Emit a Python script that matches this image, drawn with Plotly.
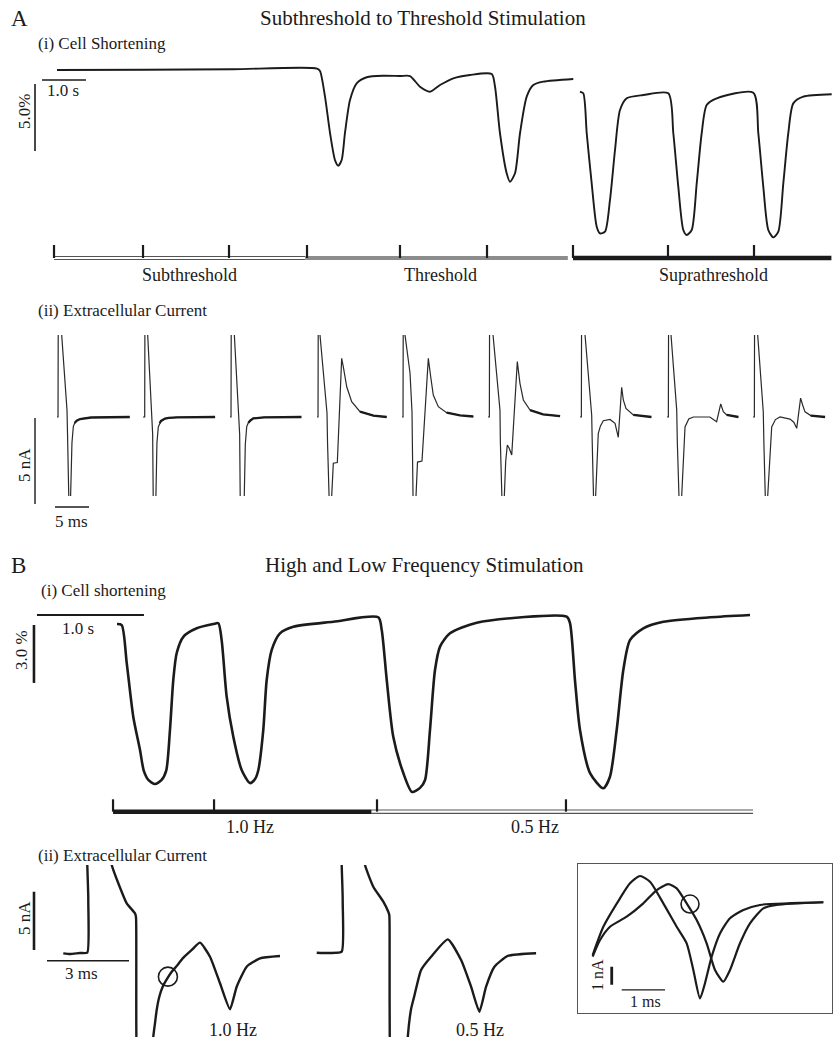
import plotly.graph_objects as go

W, H = 833, 1043
FONT = "Liberation Serif, Times New Roman, serif"
INK = "#1b1b1b"

# ---------------- DATA ----------------
# A(i) cell shortening: time (s) vs shortening (%)
a1_seg1_t = [0, 2.0, 4.0, 5.909, 5.977, 6.091, 6.205, 6.318, 6.393, 6.470, 6.545, 6.659, 6.811, 7.039,
             7.416, 7.795, 8.023, 8.250, 8.477, 8.705, 9.007, 9.386, 9.880, 9.955, 10.068, 10.220,
             10.295, 10.409, 10.523, 10.675, 10.825, 11.052, 11.734]
a1_seg1_y = [0, 0.02, 0.06, 0.11, -0.07, -1.99, -4.70, -6.72, -7.14, -6.72, -4.70, -2.24, -0.99, -0.54,
             -0.43, -0.45, -0.45, -1.25, -1.62, -1.12, -0.62, -0.37, -0.30, -1.25, -4.72, -7.71,
             -8.34, -7.71, -4.72, -1.99, -1.12, -0.87, -0.67]
a1_seg2_t = [11.886, 11.961, 12.039, 12.152, 12.266, 12.341, 12.455, 12.568, 12.682, 12.795, 12.948,
             13.325, 13.893, 14.007, 14.120, 14.234, 14.311, 14.425, 14.539, 14.652, 14.766, 14.993,
             15.825, 15.939, 16.052, 16.166, 16.280, 16.393, 16.507, 16.620, 16.734, 16.961, 17.607]
a1_seg2_y = [-1.62, -1.74, -4.72, -8.46, -11.69, -12.19, -12.07, -9.70, -5.97, -2.99, -2.11,
             -1.87, -1.74, -4.72, -8.71, -11.94, -12.31, -11.94, -8.46, -4.72, -2.61, -2.11,
             -1.69, -4.72, -8.71, -11.94, -12.49, -12.07, -8.46, -4.72, -2.49, -1.99, -1.81]
a_stim_times = [-0.068, 1.955, 3.909, 5.682, 7.795, 9.773, 11.727, 13.886, 15.841]
a_protocol_labels = ["Subthreshold", "Threshold", "Suprathreshold"]
a_protocol_start = [-0.068, 5.64, 11.727]
a_protocol_end = [5.64, 11.61, 17.6]
a_protocol_label_t = [3.0, 8.727, 14.91]

# A(ii) extracellular current sweeps: time (ms) vs current (nA); +-9 = off scale
a2_t1 = [0, 0.15, 0.2, 0.6, 0.69, 1.05, 1.47, 1.55, 1.6, 1.65, 1.95, 2.0, 2.2, 2.4, 2.6, 2.9, 3.4, 3.9, 5.0, 10.7]
a2_i1 = [0, 0, 9, 9, 4.77, 2.6, 0.41, -1.0, -4.6, -9, -9, -4.6, -1.5, -0.56, -0.35, -0.21, -0.12, -0.08, -0.03, 0]
a2_t2 = [0, 0.25, 0.3, 0.6, 0.69, 1.0, 1.32, 1.42, 1.5, 1.55, 1.85, 1.9, 2.05, 2.25, 2.45, 2.65, 3.24, 3.8, 5.0, 10.6]
a2_i2 = [0, 0, 9, 9, 4.77, 2.3, 0.35, -1.0, -4.6, -9, -9, -4.6, -1.5, -0.58, -0.35, -0.23, -0.09, -0.05, -0.02, 0]
a2_t3 = [0, 0.15, 0.2, 0.55, 0.64, 1.0, 1.32, 1.42, 1.5, 1.56, 2.0, 2.1, 2.25, 2.46, 2.7, 3.0, 3.43, 4.0, 5.0, 10.5]
a2_i3 = [0, 0, 9, 9, 4.77, 2.2, 0.31, -1.0, -4.6, -9, -9, -4.6, -1.6, -0.56, -0.33, -0.2, -0.08, -0.05, -0.02, 0]
a2_t4 = [0, 0.15, 0.2, 0.35, 0.44, 1.0, 1.47, 1.55, 1.62, 1.67, 2.1, 2.16, 2.4, 2.99, 3.63, 3.87, 4.37, 5.1, 6.32, 8.3, 10.25]
a2_i4 = [0, 0, 9, 9, 4.77, 2.2, 0.23, -1.5, -4.6, -9, -9, -4.6, -2.69, -2.65, 3.41, 2.92, 1.76, 0.89, 0.31, 0.08, 0]
a2_t5 = [0, 0.15, 0.2, 0.35, 0.44, 1.18, 1.47, 1.55, 1.62, 1.67, 2.0, 2.06, 2.28, 2.94, 3.87, 4.22, 4.6, 5.34, 6.57, 8.53, 10.49]
a2_i5 = [0, 0, 9, 9, 4.77, 2.56, 0.3, -1.5, -4.6, -9, -9, -4.6, -2.62, -2.56, 3.41, 2.34, 1.28, 0.6, 0.25, 0.1, 0.03]
a2_t6 = [0, 0.2, 0.25, 0.65, 0.74, 1.3, 1.76, 1.82, 1.87, 1.92, 2.35, 2.4, 2.6, 2.84, 3.1, 3.49, 4.31, 4.7, 5.2, 6.18, 8.1, 10.6]
a2_i6 = [0, 0, 9, 9, 4.77, 2.2, 0.4, -1.5, -4.6, -9, -9, -4.6, -2.6, -1.63, -1.8, -2.21, 3.22, 1.96, 0.99, 0.4, 0.15, 0.05]
a2_t7 = [0, 0.2, 0.25, 0.65, 0.74, 1.3, 1.72, 1.8, 1.9, 1.96, 2.25, 2.3, 2.69, 3.01, 3.43, 4.41, 5.15, 5.63, 6.13, 6.37, 6.76, 7.84, 10.5]
a2_i7 = [0, 0, 9, 9, 4.77, 2.2, 0.1, -1.5, -4.6, -9, -9, -4.6, -0.95, -0.52, -0.22, -0.14, -0.37, -1.18, 1.73, 0.99, 0.5, 0.12, 0]
a2_t8 = [0, 0.2, 0.25, 0.5, 0.59, 1.0, 1.43, 1.52, 1.66, 1.7, 2.1, 2.16, 2.65, 3.2, 3.87, 6.3, 7.3, 7.9, 8.28, 8.78, 10.5]
a2_i8 = [0, 0, 9, 9, 4.77, 2.4, 0.4, -1.5, -4.6, -9, -9, -4.6, -0.58, -0.12, 0, 0, -0.27, 0.76, 0.31, 0.12, 0]
a2_t9 = [0, 0.2, 0.25, 0.6, 0.69, 1.1, 1.51, 1.6, 1.76, 1.8, 2.1, 2.16, 2.75, 3.3, 3.97, 5.44, 6.0, 6.43, 7.0, 7.3, 7.65, 8.5, 10.6]
a2_i9 = [0, 0, 9, 9, 4.77, 2.4, 0.3, -1.5, -4.6, -9, -9, -4.6, -0.58, -0.15, 0, -0.12, -0.3, -0.66, 1.1, 0.7, 0.3, 0.08, 0]
a2_tail_from = [2.6, 2.45, 2.7, 6.0, 6.5, 6.1, 7.0, 8.5, 7.9]

# B(i) cell shortening: time (s) vs shortening (%)
b1_t = [0, 0.044, 0.091, 0.152, 0.215, 0.250, 0.295, 0.355, 0.415, 0.460, 0.495, 0.526, 0.558, 0.620, 0.745,
        0.900, 0.947, 0.978, 1.025, 1.087, 1.165, 1.243, 1.290, 1.321, 1.367, 1.399, 1.446, 1.523,
        1.648, 2.021, 2.442, 2.474, 2.521, 2.582, 2.676, 2.757, 2.832, 2.879, 2.925, 2.972, 3.019,
        3.112, 3.362, 4.203, 4.234, 4.280, 4.327, 4.421, 4.545, 4.607, 4.670, 4.732, 4.794, 4.919,
        5.106, 5.542, 5.916]
b1_y = [-0.21, -0.26, -2.23, -5.01, -6.74, -7.80, -8.30, -8.50, -8.30, -7.80, -5.70, -3.11, -1.71, -0.87, -0.43,
        -0.21, -0.17, -1.04, -3.97, -6.05, -7.77, -8.45, -8.24, -7.77, -5.70, -3.11, -1.55, -0.69,
        -0.35, -0.09, 0.14, -0.52, -3.11, -6.05, -7.93, -8.91, -8.70, -8.29, -5.70, -2.59, -1.38,
        -0.69, -0.14, 0.17, -0.17, -3.11, -5.70, -7.93, -8.72, -8.12, -5.70, -2.59, -1.04, -0.43,
        -0.09, 0.14, 0.26]
b_stim_times = [-0.037, 0.907, 2.430, 4.196]
b_protocol_labels = ["1.0 Hz", "0.5 Hz"]
b_protocol_start = [-0.037, 2.38]
b_protocol_end = [2.38, 5.944]
b_protocol_label_t = [1.243, 3.907]

# B(ii) extracellular current: time (ms) vs current (nA); +-12 = off scale
b2_t1 = [-0.905, -0.659, -0.293, -0.026, 0.011, 0.02, 0.5, 0.868, 1.11, 1.418, 1.722, 1.758, 1.769, 1.777,
         1.9, 2.3, 2.392, 2.454, 2.516, 2.612, 2.736, 2.883, 3.066, 3.249, 3.469, 3.799, 4.103, 4.469,
         4.835, 5.201, 5.447, 5.813, 6.3, 7.033]
b2_i1 = [-0.03, -0.09, 0, 0.03, 4.57, 12, 12, 7.59, 6.01, 4.28, 3.42, 3.10, -0.60, -7.9,
         -12, -12, -7.22, -6.06, -4.91, -3.77, -2.91, -2.28, -1.62, -1.12, -0.46, 0.26, 0.89, -0.32,
         -2.61, -4.85, -2.91, -1.18, -0.46, -0.26]
b2_t2 = [-0.952, -0.465, -0.037, 0, 0.01, 0.5, 0.817, 1.121, 1.487, 1.67, 1.707, 1.718, 1.725, 1.8, 2.3,
         2.385, 2.505, 2.626, 2.871, 3.238, 3.85, 4.337, 4.703, 5.007, 5.252, 5.557, 6.048, 7.084]
b2_i2 = [-0.06, -0.09, 0.03, 4.48, 12, 12, 7.5, 5.63, 4.34, 3.47, 3.19, -0.69, -8.0, -12, -12,
         -7.30, -4.91, -3.77, -1.55, -0.41, 1.09, -0.69, -2.99, -5.15, -2.99, -1.27, -0.34, -0.11]
b2_labels = ["1.0 Hz", "0.5 Hz"]
b2_circle_t = [2.927]
b2_circle_i = [-2.04]

# Inset: overlay of the two responses (ms, nA)
ins_t1 = [0.062, 0.31, 0.698, 0.93, 1.163, 1.395, 1.705, 2.016, 2.248, 2.403, 2.558, 2.674, 2.829, 3.023,
          3.256, 3.566, 3.953, 5.426]
ins_i1 = [0, 1.57, 3.15, 3.98, 4.39, 4.07, 2.87, 1.57, 0.65, -0.83, -2.41, -1.57, -0.09, 1.2,
          2.04, 2.5, 2.78, 2.93]
ins_t2 = [0.062, 0.233, 0.465, 0.853, 1.24, 1.551, 1.821, 2.016, 2.248, 2.481, 2.713, 2.907, 3.1, 3.256,
          3.488, 3.721, 4.031, 4.341, 5.426]
ins_i2 = [-0.09, 0.83, 1.57, 2.13, 2.87, 3.61, 3.94, 3.7, 2.87, 1.94, 0.65, -0.83, -1.48, -0.83,
          0.65, 1.76, 2.59, 2.78, 2.93]
ins_circle_t = [2.326]
ins_circle_i = [2.83]

# ---------------- FIGURE ----------------
fig = go.Figure()
axes_layout = {}
n_axes = [0]


def make_axes(box, origin, scale, frame=False):
    """box=(left, top, right, bottom) px; origin=(px of x=0, py of y=0); scale=(px/unit x, px/unit y)"""
    n_axes[0] += 1
    n = n_axes[0]
    sfx = "" if n == 1 else str(n)
    left, top, right, bottom = box
    ox, oy = origin
    sx, sy = scale
    base = dict(showgrid=False, zeroline=False, showticklabels=False, ticks="", fixedrange=True)
    if frame:
        base.update(visible=True, showline=True, mirror=True, linecolor="#555", linewidth=1.3)
    else:
        base.update(visible=False)
    axes_layout["xaxis" + sfx] = dict(domain=[left / W, right / W],
                                      range=[(left - ox) / sx, (right - ox) / sx],
                                      anchor="y" + sfx, **base)
    axes_layout["yaxis" + sfx] = dict(domain=[1 - bottom / H, 1 - top / H],
                                      range=[(oy - bottom) / sy, (oy - top) / sy],
                                      anchor="x" + sfx, **base)
    return "x" + sfx, "y" + sfx


def line(ax, x, y, width=1.5, color=INK, smooth=None):
    ln = dict(color=color, width=width)
    if smooth:
        ln.update(shape="spline", smoothing=smooth)
    fig.add_trace(go.Scatter(x=x, y=y, xaxis=ax[0], yaxis=ax[1], mode="lines", line=ln,
                             hoverinfo="skip", showlegend=False))


annotations = []


def text(s, x, y, ax=None, size=17, xanchor="center", angle=0):
    if ax is None:
        xr, yr, xx, yy = "paper", "paper", x / W, 1 - y / H
    else:
        xr, yr, xx, yy = ax[0], ax[1], x, y
    annotations.append(dict(text=s, x=xx, y=yy, xref=xr, yref=yr, showarrow=False,
                            xanchor=xanchor, yanchor="middle", textangle=angle,
                            font=dict(family=FONT, size=size, color=INK)))


def stim_ticks(ax, times, y0, y1, width=2.2):
    xs, ys = [], []
    for t in times:
        xs += [t, t, None]
        ys += [y0, y1, None]
    line(ax, xs, ys, width=width)


# ---- Panel A(i)
axA1 = make_axes((0, 40, 833, 300), (57, 70), (44, 13.4))
line(axA1, a1_seg1_t, a1_seg1_y, width=1.9, smooth=0.7)
line(axA1, a1_seg2_t, a1_seg2_y, width=1.9, smooth=0.7)
bar_y, tick_y = -14.03, -13.06
line(axA1, [a_protocol_start[0], a_protocol_end[0]], [bar_y, bar_y], width=4, color="#555")
line(axA1, [a_protocol_start[0], a_protocol_end[0]], [bar_y, bar_y], width=1.8, color="white")
line(axA1, [a_protocol_start[1], a_protocol_end[1]], [bar_y, bar_y], width=4, color="#8c8c8c")
line(axA1, [a_protocol_start[2], a_protocol_end[2]], [bar_y, bar_y], width=4.5, color=INK)
stim_ticks(axA1, a_stim_times, bar_y, tick_y)
for lab, t in zip(a_protocol_labels, a_protocol_label_t):
    text(lab, t, -15.3, ax=axA1, size=18)
line(axA1, [-0.341, 0.659], [-0.75, -0.75], width=1.6)
line(axA1, [-0.5, -0.5], [-1.04, -6.04], width=1.6)
text("1.0 s", 0.136, -1.55, ax=axA1, size=17)
text("5.0%", -0.727, -3.13, ax=axA1, size=17, angle=-90)

# ---- Panel A(ii)
a2_t = [a2_t1, a2_t2, a2_t3, a2_t4, a2_t5, a2_t6, a2_t7, a2_t8, a2_t9]
a2_i = [a2_i1, a2_i2, a2_i3, a2_i4, a2_i5, a2_i6, a2_i7, a2_i8, a2_i9]
sweep_left_px = [57, 143, 230, 317, 402, 488, 580, 667, 753]
for k, (tt, ii) in enumerate(zip(a2_t, a2_i)):
    s = sweep_left_px[k]
    ax = make_axes((s - 3, 335, s + 80, 496), (s, 417), (6.8, 17.2))
    line(ax, tt, ii, width=1.2, color="#2a2a2a")
    tail = [(t, v) for t, v in zip(tt, ii) if t >= a2_tail_from[k]]
    line(ax, [p[0] for p in tail], [p[1] for p in tail], width=2.3, color=INK)
axA2s = make_axes((0, 330, 160, 540), (57, 417), (6.8, 17.2))
line(axA2s, [-3.235, -3.235], [-0.06, -5.06], width=1.4)
line(axA2s, [-0.29, 4.71], [-5.23, -5.23], width=1.6)
text("5 ms", 2.2, -6.05, ax=axA2s, size=17)
text("5 nA", -4.7, -2.79, ax=axA2s, size=17, angle=-90)

# ---- Panel B(i)
axB1 = make_axes((0, 600, 833, 845), (117, 620), (107, 19.3))
line(axB1, b1_t, b1_y, width=2.6, smooth=0.7)
bby, bty = -9.93, -9.29
line(axB1, [b_protocol_start[0], b_protocol_end[0]], [bby, bby], width=4.5, color=INK)
line(axB1, [b_protocol_start[1], b_protocol_end[1]], [bby, bby], width=4.5, color="#555")
line(axB1, [b_protocol_start[1], b_protocol_end[1]], [bby, bby], width=2.2, color="white")
stim_ticks(axB1, b_stim_times, bby, bty)
for lab, t in zip(b_protocol_labels, b_protocol_label_t):
    text(lab, t, -10.75, ax=axB1, size=18)
line(axB1, [-0.748, 0.252], [0.26, 0.26], width=1.8)
line(axB1, [-0.776, -0.776], [-0.26, -3.26], width=2.6)
text("1.0 s", -0.364, -0.45, ax=axB1, size=17)
text("3.0 %", -0.888, -1.55, ax=axB1, size=17, angle=-90)

# ---- Panel B(ii)
axB2a = make_axes((30, 865, 300, 1037), (88, 953), (27.3, 11.6))
line(axB2a, b2_t1, b2_i1, width=2.4, smooth=0.5)
fig.add_trace(go.Scatter(x=b2_circle_t, y=b2_circle_i, xaxis=axB2a[0], yaxis=axB2a[1], mode="markers",
                         marker=dict(symbol="circle-open", size=19, color=INK, line=dict(width=1.6)),
                         hoverinfo="skip", showlegend=False))
line(axB2a, [-1.978, -1.978], [0.26, 5.28], width=2.6)
line(axB2a, [-1.502, 1.502], [-0.66, -0.66], width=1.5)
text("3 ms", -0.22, -1.75, ax=axB2a, size=17)
text("5 nA", 24, 918, size=17, angle=-90)
text(b2_labels[0], 233, 1030, size=18)

axB2b = make_axes((300, 865, 560, 1037), (342.7, 952), (27.3, 11.6))
line(axB2b, b2_t2, b2_i2, width=2.4, smooth=0.5)
text(b2_labels[1], 480, 1030, size=18)

# ---- Inset
axIn = make_axes((578.3, 864.3, 831.7, 1012.7), (590, 955), (43, 18), frame=True)
line(axIn, ins_t1, ins_i1, width=2.2, smooth=0.6)
line(axIn, ins_t2, ins_i2, width=2.2, smooth=0.6)
fig.add_trace(go.Scatter(x=ins_circle_t, y=ins_circle_i, xaxis=axIn[0], yaxis=axIn[1], mode="markers",
                         marker=dict(symbol="circle-open", size=18, color=INK, line=dict(width=1.6)),
                         hoverinfo="skip", showlegend=False))
line(axIn, [0.505, 0.505], [-0.65, -1.65], width=2.8)
line(axIn, [0.737, 1.744], [-1.94, -1.94], width=1.4)
text("1 nA", 0.186, -1.11, ax=axIn, size=16, angle=-90)
text("1 ms", 1.28, -2.6, ax=axIn, size=16)

# ---- Titles / headers (paper pixels)
text("A", 19, 18, size=23)
text("Subthreshold to Threshold Stimulation", 423, 18, size=21)
text("(i) Cell Shortening", 36, 44, size=17, xanchor="left")
text("(ii) Extracellular Current", 36, 310, size=17, xanchor="left")
text("B", 18, 565, size=23)
text("High and Low Frequency Stimulation", 424, 565, size=21)
text("(i) Cell shortening", 39, 590, size=17, xanchor="left")
text("(ii) Extracellular Current", 36, 855, size=17, xanchor="left")

fig.update_layout(width=W, height=H, margin=dict(l=0, r=0, t=0, b=0),
                  paper_bgcolor="white", plot_bgcolor="rgba(0,0,0,0)",
                  showlegend=False, annotations=annotations,
                  font=dict(family=FONT, color=INK), **axes_layout)

fig.write_html("out.html")
